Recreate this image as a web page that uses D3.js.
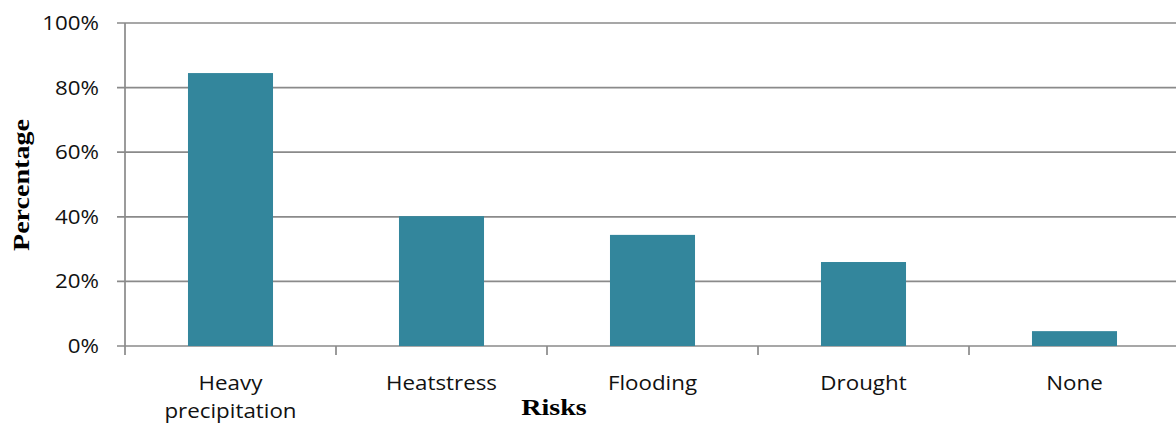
<!DOCTYPE html>
<html>
<head>
<meta charset="utf-8">
<script src="https://cdn.jsdelivr.net/npm/d3@7"></script>
<style>
  html, body { margin: 0; padding: 0; background: #fff; overflow: hidden; }
  svg { display: block; }
</style>
</head>
<body>
<script>
// Share of respondents naming each climate risk
const categories = ["Heavy precipitation", "Heatstress", "Flooding", "Drought", "None"];
const categoryLines = [["Heavy", "precipitation"], ["Heatstress"], ["Flooding"], ["Drought"], ["None"]];
const values = [0.845, 0.402, 0.344, 0.26, 0.046];
const yTicks = [0, 0.2, 0.4, 0.6, 0.8, 1.0];

const W = 1176, H = 425;
const plot = { left: 125, right: 1180, top: 23, bottom: 346 };
const gridColor = "#8a8a8a";
const barColor = "#33869c";
const sansFont = "'Open Sans', sans-serif";
const serifFont = "'Liberation Serif', serif";
const sansWiden = 1.09;
const serifWiden = 1.17;

const svg = d3.select("body").append("svg")
  .attr("width", W).attr("height", H);

const x = d3.scaleBand()
  .domain(categories)
  .range([plot.left, plot.right])
  .paddingInner(0.597)
  .paddingOuter(0.2985);

const xEdges = d3.scaleLinear()
  .domain([0, categories.length])
  .range([plot.left, plot.right]);

const y = d3.scaleLinear()
  .domain([0, 1])
  .range([plot.bottom, plot.top]);

// Horizontal gridlines (including the baseline)
svg.append("g")
  .selectAll("line")
  .data(yTicks)
  .join("line")
  .attr("x1", plot.left - 8)
  .attr("x2", plot.right)
  .attr("y1", d => y(d))
  .attr("y2", d => y(d))
  .attr("stroke", gridColor)
  .attr("stroke-width", 1.7);

// Bars
svg.append("g")
  .selectAll("rect")
  .data(values)
  .join("rect")
  .attr("x", (d, i) => x(categories[i]))
  .attr("width", x.bandwidth())
  .attr("y", d => y(d))
  .attr("height", d => y(0) - y(d))
  .attr("fill", barColor);

// Vertical axis line
svg.append("line")
  .attr("x1", plot.left).attr("x2", plot.left)
  .attr("y1", plot.top).attr("y2", plot.bottom + 9)
  .attr("stroke", gridColor).attr("stroke-width", 1.7);

// Category separator ticks below the baseline
svg.append("g")
  .selectAll("line")
  .data(d3.range(1, categories.length + 1))
  .join("line")
  .attr("x1", d => xEdges(d)).attr("x2", d => xEdges(d))
  .attr("y1", plot.bottom).attr("y2", plot.bottom + 9)
  .attr("stroke", gridColor).attr("stroke-width", 1.7);

// Y tick labels
const pct = d3.format(".0%");
svg.append("g")
  .selectAll("text")
  .data(yTicks)
  .join("text")
  .attr("transform", d => `translate(99,${y(d) + 7}) scale(${sansWiden},1)`)
  .attr("text-anchor", "end")
  .attr("font-family", sansFont)
  .attr("font-size", 20.5)
  .attr("fill", "#111")
  .text(d => pct(d));

// Category labels
const catG = svg.append("g");
categoryLines.forEach((lines, i) => {
  const cx = x(categories[i]) + x.bandwidth() / 2;
  lines.forEach((ln, j) => {
    catG.append("text")
      .attr("transform", `translate(${cx},${390 + j * 27.5}) scale(${sansWiden},1)`)
      .attr("text-anchor", "middle")
      .attr("font-family", sansFont)
      .attr("font-size", 20.5)
      .attr("fill", "#111")
      .text(ln);
  });
});

// Axis titles
svg.append("text")
  .attr("transform", `translate(554,415) scale(${serifWiden},1)`)
  .attr("text-anchor", "middle")
  .attr("font-family", serifFont)
  .attr("font-weight", "bold")
  .attr("font-size", 24)
  .attr("fill", "#000")
  .text("Risks");

svg.append("text")
  .attr("transform", `translate(29,185) rotate(-90) scale(${serifWiden},1)`)
  .attr("text-anchor", "middle")
  .attr("font-family", serifFont)
  .attr("font-weight", "bold")
  .attr("font-size", 24)
  .attr("fill", "#000")
  .text("Percentage");
</script>
</body>
</html>
